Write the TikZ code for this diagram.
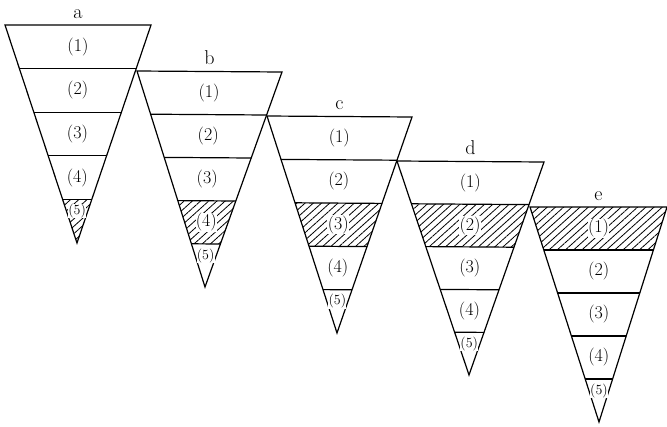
\documentclass[tikz,border=0pt]{standalone}
\usetikzlibrary{calc,patterns.meta}
\begin{document}
\begin{tikzpicture}[x=1pt,y=-1pt,line width=1.2pt,
  hatch/.style={pattern={Lines[angle=42,distance=5.5pt,line width=0.8pt]}},
  bandlabel/.style={font=\fontsize{18}{18}\selectfont,inner sep=0.3pt,fill=white},
  smalllabel/.style={font=\fontsize{14}{14}\selectfont,inner sep=0.2pt,fill=white},
  letterlabel/.style={font=\fontsize{20}{20}\selectfont,anchor=base,inner sep=0pt}]
\useasboundingbox (0,0) rectangle (667,426);
\foreach \n/\lx/\ly/\rx/\ry/\ax/\ay/\h in {
  a/5/25/151/25/77/243/5,
  b/137/71/282/72/205/287/4,
  c/267/116/412/117/337/333/3,
  d/397/161/544/162/469/375/2,
  e/530/207/667/207/599/422/1}{
  \coordinate (\n-L0) at (\lx,\ly);
  \coordinate (\n-R0) at (\rx,\ry);
  \coordinate (\n-A) at (\ax,\ay);
  \foreach \k in {1,...,4}{
    \coordinate (\n-L\k) at ($(\n-L0)!\k/5!(\n-A)$);
    \coordinate (\n-R\k) at ($(\n-R0)!\k/5!(\n-A)$);
  }
  \coordinate (\n-L5) at (\n-A);
  \coordinate (\n-R5) at (\n-A);
  \pgfmathtruncatemacro\hp{\h-1}
  \fill[hatch] (\n-L\hp) -- (\n-R\hp) -- (\n-R\h) -- (\n-L\h) -- cycle;
  \draw (\n-L0) -- (\n-R0) -- (\n-A) -- cycle;
  \foreach \k in {1,...,4}{
    \draw (\n-L\k) -- (\n-R\k);
  }
  \foreach \k [evaluate=\k as \kp using int(\k-1)] in {1,...,4}{
    \node[bandlabel] (\n-b\k) at ($($(\n-L\kp)!0.5!(\n-R\kp)$)!0.5!($(\n-L\k)!0.5!(\n-R\k)$)$) {(\k)};
  }
  \node[smalllabel] (\n-b5) at ($($(\n-L4)!0.5!(\n-R4)$)!0.27!(\n-A)$) {(5)};
  \node[letterlabel] (\n-t) at ($($(\n-L0)!0.5!(\n-R0)$)+(0,-7)$) {\n};
}
\end{tikzpicture}
\end{document}
